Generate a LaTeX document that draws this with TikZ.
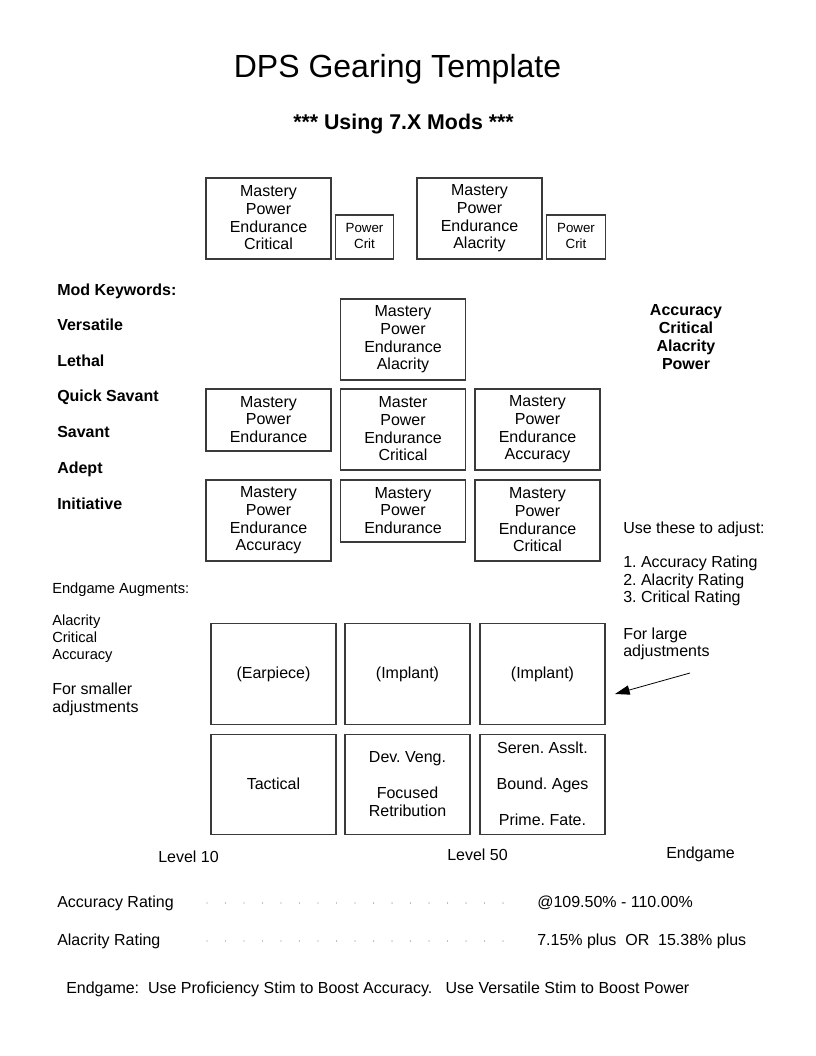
\documentclass[tikz,border=0pt]{standalone}
\usepackage{fontspec}
\setmainfont{Liberation Sans}
\usetikzlibrary{arrows.meta, positioning}
\definecolor{BoxLine}{HTML}{3A3A3A}
\definecolor{DotGray}{HTML}{8A8A8A}
\newcommand{\sizetwelve}{\fontsize{12}{13.25}\selectfont}
\newcommand{\sizeeleven}{\fontsize{11}{12.75}\selectfont}
\newcommand{\boxstrut}{\vrule width 0pt height 9pt depth 1pt}
\frenchspacing

\tikzset{
    gearbox/.style={draw=BoxLine, line width=0.8pt, align=center, inner sep=0pt,
                    font=\sizetwelve, minimum width=93.75pt, minimum height=60.75pt,
                    execute at begin node=\boxstrut, execute at end node=\boxstrut},
    shortbox/.style={gearbox, minimum height=46.5pt},
    critbox/.style={gearbox, minimum width=44pt, minimum height=33pt,
                    font=\fontsize{10}{12}\selectfont},
    slotbox/.style={gearbox, minimum height=75.5pt},
    keyword/.style={anchor=base west, inner sep=0pt, font=\sizetwelve\bfseries},
    notetext/.style={anchor=base west, inner sep=0pt, font=\sizetwelve},
    notelist/.style={anchor=west, inner sep=0pt, align=left, font=\sizetwelve}
}

\begin{document}
\begin{tikzpicture}[x=0.75pt, y=-0.75pt]
    \useasboundingbox (0,0) rectangle (816,1056);

    % Title
    \node[anchor=base, inner sep=0pt, font=\fontsize{24}{28}\selectfont] (title) at (397.5,77.5) {DPS Gearing Template};
    \node[anchor=base, inner sep=0pt, font=\fontsize{16}{18}\selectfont\bfseries] (subtitle) at (403.5,129) {*** Using 7.X Mods ***};

    % Top row
    \node[gearbox] (topleft) at (268.5,218.5) {Mastery\\Power\\Endurance\\Critical};
    \node[critbox] (topleftcrit) at (364.5,237) {Power\\Crit};
    \node[gearbox] (topright) at (479.5,218.5) {Mastery\\Power\\Endurance\\Alacrity};
    \node[critbox] (toprightcrit) at (576,237) {Power\\Crit};

    % Middle grid
    \node[gearbox] (head) at (403,339.5) {Mastery\\Power\\Endurance\\Alacrity};
    \node[shortbox] (midleft) at (268.5,420) {Mastery\\Power\\Endurance};
    \node[gearbox] (midcentre) at (403,429.5) {Master\\Power\\Endurance\\Critical};
    \node[gearbox] (midright) at (537.5,429.5) {Mastery\\Power\\Endurance\\Accuracy};
    \node[gearbox] (lowleft) at (268.5,520.5) {Mastery\\Power\\Endurance\\Accuracy};
    \node[shortbox] (lowcentre) at (403,511) {Mastery\\Power\\Endurance};
    \node[gearbox] (lowright) at (537.5,520.5) {Mastery\\Power\\Endurance\\Critical};

    % Mod keywords
    \node[keyword] (kwhead) at (57,295) {Mod Keywords:};
    \foreach \y/\word in {330/Versatile, 366/Lethal, 401/Quick Savant,
                          437/Savant, 473/Adept, 509/Initiative} {
        \node[keyword] (kw\y) at (57,\y) {\word};
    }
    \node[inner sep=0pt, align=center, font=\fontsize{12}{13.5}\selectfont\bfseries] (priority) at (686,337.5) {Accuracy\\Critical\\Alacrity\\Power};

    % Adjust notes
    \node[notetext] (adjusthead) at (623,533) {Use these to adjust:};
    \node[notelist] (adjustlist) at (623,581) {1. Accuracy Rating\\2. Alacrity Rating\\3. Critical Rating};

    % Augments
    \node[anchor=base west, inner sep=0pt, font=\sizeeleven] (augments) at (52,593) {Endgame Augments:};
    \node[notelist, font=\sizeeleven] (augmentlist) at (52,638.5) {Alacrity\\Critical\\Accuracy};
    \node[notelist] (smaller) at (52,699.5) {For smaller\\adjustments};
    \node[notelist] (larger) at (623,644) {For large\\adjustments};

    % Bottom slots
    \node[slotbox] (earpiece) at (273.5,674) {(Earpiece)};
    \node[slotbox] (implantone) at (407.5,674) {(Implant)};
    \node[slotbox] (implanttwo) at (542.5,674) {(Implant)};
    \node[slotbox] (tactical) at (273.5,784.5) {Tactical};
    \node[slotbox] (setfifty) at (407.5,784.5) {Dev. Veng.\\[13.5pt]Focused\\Retribution};
    \node[slotbox] (setend) at (542.5,784.5) {Seren. Asslt.\\[13.5pt]Bound. Ages\\[13.5pt]Prime. Fate.};

    % Arrow to implant
    \coordinate (arrowtail) at (690,673);
    \coordinate (arrowtip) at (615,694);
    \draw[-{Triangle[length=11pt, width=7pt]}, line width=0.6pt] (arrowtail) -- (arrowtip);

    % Levels
    \node[anchor=base, inner sep=0pt, font=\sizetwelve] (levelten) at (188.5,862) {Level 10};
    \node[anchor=base, inner sep=0pt, font=\sizetwelve] (levelfifty) at (477.5,860) {Level 50};
    \node[anchor=base, inner sep=0pt, font=\sizetwelve] (levelend) at (700.5,858) {Endgame};

    % Ratings
    \node[notetext] (accrating) at (57,907) {Accuracy Rating};
    \node[notetext] (accvalue) at (537,907) {@109.50\% - 110.00\%};
    \node[notetext] (alacrating) at (57,945) {Alacrity Rating};
    \node[notetext] (alacvalue) at (537,945) {7.15\% plus\ \ OR\ \ 15.38\% plus};
    \foreach \row in {903, 941} {
        \foreach \i in {0,...,16} {
            \fill[DotGray] (207+\i*18.5,\row) circle (0.55pt);
        }
    }

    \node[notetext] (stims) at (66,993) {Endgame:\ \ Use Proficiency Stim to Boost Accuracy.\ \ \ Use Versatile Stim to Boost Power};
\end{tikzpicture}
\end{document}
